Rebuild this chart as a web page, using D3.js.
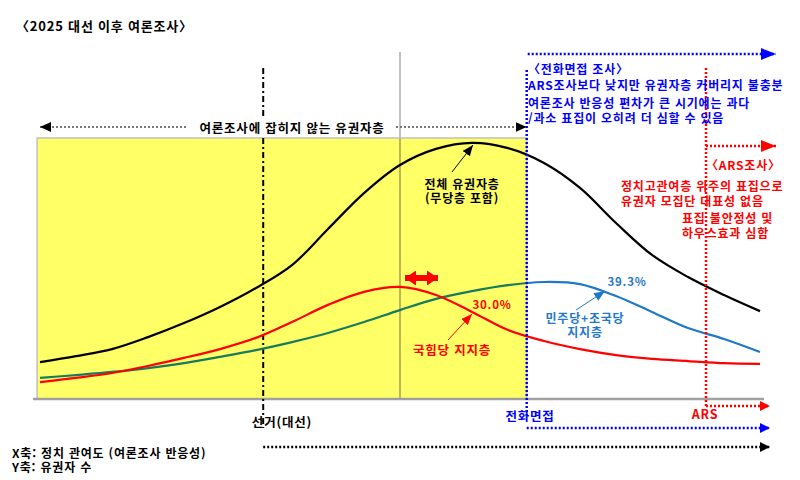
<!DOCTYPE html>
<html lang="ko">
<head>
  <meta charset="UTF-8">
  <title>2025 대선 이후 여론조사</title>
  <script src="https://cdn.jsdelivr.net/npm/d3@7/dist/d3.min.js"></script>
  <style>
    body { margin: 0; background: #fff; }
    text { font-family: "Noto Sans CJK KR", "Noto Sans", sans-serif; font-weight: bold; letter-spacing: 0.8px; }
  </style>
</head>
<body>
  <div id="wrapper"></div>
  <script>
    // 정치 관여도 (0~100) 기준 개념 곡선
    const engagement = [0, 5, 10, 15, 20, 25, 30, 35, 40, 45, 50, 55, 60, 65, 70, 75, 80, 85, 90, 95, 100]
    const totalVoters = [14.2, 16.5, 19.2, 23.8, 29.2, 35.4, 42.7, 51.5, 65.4, 79.2, 90, 96.2, 98.5, 96.5, 90.8, 81.2, 67.7, 55.4, 46.9, 40, 33.8]
    const ppSupport = [6.5, 8.1, 10, 12.7, 15.8, 19.2, 23.5, 29.6, 36.2, 41.2, 43.1, 40, 33.5, 26.5, 22.3, 19.2, 16.9, 15.4, 14.6, 13.8, 13.5]
    const dpSupport = [8.1, 9.2, 10.4, 11.9, 13.8, 16.2, 18.8, 21.9, 25.4, 29.6, 34.2, 38.5, 41.5, 43.8, 45, 44.2, 39.6, 33.5, 27.3, 23.1, 18.1]

    const electionX = 31      // 선거(대선)
    const peakX = 50          // 국힘당 지지층 정점
    const phoneX = 67.6       // 전화면접 도달 한계
    const arsX = 92.5         // ARS 도달 한계

    const labelPP = "30.0%"
    const labelDP = "39.3%"

    const dimensions = { width: 800, height: 480 }

    const svg = d3.select("#wrapper").append("svg")
      .attr("width", dimensions.width)
      .attr("height", dimensions.height)

    const xScale = d3.scaleLinear().domain([0, 100]).range([40, 760])
    const yScale = d3.scaleLinear().domain([0, 100]).range([399, 139])

    const defs = svg.append("defs")
    const addHead = (id, color, w, h) => {
      defs.append("marker").attr("id", id)
        .attr("viewBox", `0 0 ${w} ${h}`).attr("refX", w).attr("refY", h / 2)
        .attr("markerWidth", w).attr("markerHeight", h)
        .attr("markerUnits", "userSpaceOnUse").attr("orient", "auto-start-reverse")
        .append("path").attr("d", `M0,0L${w},${h / 2}L0,${h}Z`).attr("fill", color)
    }
    addHead("hBlue", "#0000ff", 15, 12)
    addHead("hRed", "#ff0000", 15, 12)
    addHead("hBlack", "#000", 11, 10)
    addHead("hBlueS", "#0000ff", 10, 10)
    addHead("hRedS", "#ff0000", 10, 10)
    addHead("hBlackS", "#000", 10, 10)
    addHead("pRed", "#ff0000", 11, 9)
    addHead("pBlue", "#1f78c8", 11, 9)
    addHead("pBlack", "#000", 11, 9)
    addHead("dbl", "#ff0000", 11, 15)

    // 여론조사 영역 (노란 박스)
    const boxLeft = xScale(-0.4), boxRight = xScale(phoneX)
    svg.append("rect")
      .attr("x", boxLeft).attr("y", yScale(100.4))
      .attr("width", boxRight - boxLeft).attr("height", yScale(0) - yScale(100.4))
      .attr("fill", "#ffff66").attr("stroke", "#c0c0c0").attr("stroke-width", 1.5)

    // 회색 세로선 (정점)
    svg.append("line").attr("x1", xScale(peakX)).attr("x2", xScale(peakX))
      .attr("y1", 52).attr("y2", yScale(100.4)).attr("stroke", "#c0c0c0").attr("stroke-width", 2)
    svg.append("line").attr("x1", xScale(peakX)).attr("x2", xScale(peakX))
      .attr("y1", yScale(100.4)).attr("y2", yScale(0)).attr("stroke", "#bcb55a").attr("stroke-width", 2)

    // 가로축
    svg.append("line").attr("x1", 33).attr("x2", 764)
      .attr("y1", yScale(0)).attr("y2", yScale(0))
      .attr("stroke", "#a0a0a0").attr("stroke-width", 2.5)

    // 선거 시점 일점쇄선
    svg.append("line").attr("x1", xScale(electionX)).attr("x2", xScale(electionX))
      .attr("y1", 68).attr("y2", 428)
      .attr("stroke", "#000").attr("stroke-width", 2).attr("stroke-dasharray", "6,3,2,3")

    // 곡선
    const line = d3.line()
      .x((d, i) => xScale(engagement[i]))
      .y(d => yScale(d))
      .curve(d3.curveCatmullRom.alpha(0.5))

    defs.append("clipPath").attr("id", "inBox").append("rect")
      .attr("x", 0).attr("y", 0).attr("width", boxRight).attr("height", 480)
    defs.append("clipPath").attr("id", "outBox").append("rect")
      .attr("x", boxRight).attr("y", 0).attr("width", 800 - boxRight).attr("height", 480)

    svg.append("path").attr("d", line(dpSupport)).attr("clip-path", "url(#inBox)")
      .attr("fill", "none").attr("stroke", "#187a5e").attr("stroke-width", 2.2)
    svg.append("path").attr("d", line(dpSupport)).attr("clip-path", "url(#outBox)")
      .attr("fill", "none").attr("stroke", "#1f78c8").attr("stroke-width", 2.2)
    svg.append("path").attr("d", line(ppSupport))
      .attr("fill", "none").attr("stroke", "#ff0000").attr("stroke-width", 2.2)
    svg.append("path").attr("d", line(totalVoters))
      .attr("fill", "none").attr("stroke", "#000").attr("stroke-width", 2.2)

    // 전화면접 / ARS 점선
    svg.append("line").attr("x1", boxRight).attr("x2", boxRight)
      .attr("y1", 70).attr("y2", 416)
      .attr("stroke", "#0000ff").attr("stroke-width", 2.5).attr("stroke-dasharray", "2,2")
    const arsPx = xScale(arsX)
    svg.append("line").attr("x1", arsPx).attr("x2", arsPx)
      .attr("y1", 68).attr("y2", 406)
      .attr("stroke", "#ff0000").attr("stroke-width", 2.5).attr("stroke-dasharray", "2,2")

    const dotted = (x1, x2, y, color, headEnd) =>
      svg.append("line").attr("x1", x1).attr("x2", x2).attr("y1", y).attr("y2", y)
        .attr("stroke", color).attr("stroke-width", 2.5).attr("stroke-dasharray", "2,2")
        .attr("marker-end", `url(#${headEnd})`)

    dotted(boxRight + 1, 776, 54, "#0000ff", "hBlue")
    dotted(arsPx, 776, 146, "#ff0000", "hRed")
    dotted(arsPx, 770, 406, "#ff0000", "hRedS")
    dotted(boxRight, 770, 428, "#0000ff", "hBlueS")
    dotted(xScale(electionX), 770, 447, "#000", "hBlackS")

    // 여론조사에 잡히지 않는 유권자층
    const unreached = svg.append("g")
    unreached.append("line").attr("x1", 40).attr("x2", boxRight).attr("y1", 127).attr("y2", 127)
      .attr("stroke", "#777").attr("stroke-width", 2).attr("stroke-dasharray", "2,2")
      .attr("marker-start", "url(#hBlack)").attr("marker-end", "url(#hBlack)")
    unreached.append("rect").attr("x", 188).attr("y", 118).attr("width", 208).attr("height", 18).attr("fill", "#fff")
    unreached.append("text").attr("x", 292).attr("y", 127).attr("text-anchor", "middle")
      .attr("dominant-baseline", "central").attr("font-size", 12.5).text("여론조사에 잡히지 않는 유권자층")

    // 텍스트 헬퍼
    const label = (x, y, str, color, size, anchor) =>
      svg.append("text").attr("x", x).attr("y", y).attr("fill", color)
        .attr("font-size", size).attr("text-anchor", anchor || "start")
        .attr("dominant-baseline", "central").text(str)

    label(16, 25, "〈2025 대선 이후  여론조사〉", "#000", 13)

    label(528, 68, "〈전화면접 조사〉", "#0000ff", 12)
    label(528, 84, "ARS조사보다 낮지만 유권자층 커버리지 불충분", "#0000ff", 12)
    label(528, 102, "여론조사 반응성 편차가 큰 시기에는 과다", "#0000ff", 12)
    label(528, 117, "/과소 표집이 오히려 더 심할 수 있음", "#0000ff", 12)

    label(706, 164, "〈ARS조사〉", "#ff0000", 12)
    label(621, 185, "정치고관여층 위주의 표집으로", "#ff0000", 12)
    label(621, 200, "유권자 모집단 대표성 없음", "#ff0000", 12)
    label(682, 217, "표집 불안정성 및", "#ff0000", 12)
    label(682, 232, "하우스효과 심함", "#ff0000", 12)

    // 곡선 설명
    label(462, 183, "전체 유권자층", "#000", 12, "middle")
    label(462, 197, "(무당층 포함)", "#000", 12, "middle")
    svg.append("line").attr("x1", 452).attr("y1", 172).attr("x2", 473).attr("y2", 145)
      .attr("stroke", "#000").attr("stroke-width", 1).attr("marker-end", "url(#pBlack)")

    label(492, 304, labelPP, "#ff0000", 11.5, "middle")
    label(452, 349, "국힘당 지지층", "#ff0000", 12.5, "middle")
    svg.append("line").attr("x1", 448).attr("y1", 340).attr("x2", 472).attr("y2", 314)
      .attr("stroke", "#ff0000").attr("stroke-width", 1).attr("marker-end", "url(#pRed)")

    label(627, 281, labelDP, "#1f78c8", 11.5, "middle")
    label(585, 317, "민주당+조국당", "#1f78c8", 12, "middle")
    label(585, 331, "지지층", "#1f78c8", 12, "middle")
    svg.append("line").attr("x1", 576).attr("y1", 310).attr("x2", 605).attr("y2", 291)
      .attr("stroke", "#1f78c8").attr("stroke-width", 1).attr("marker-end", "url(#pBlue)")

    // 정점 이동 양방향 화살표
    svg.append("line").attr("x1", 405).attr("x2", 438).attr("y1", 278).attr("y2", 278)
      .attr("stroke", "#ff0000").attr("stroke-width", 6)
      .attr("marker-start", "url(#dbl)").attr("marker-end", "url(#dbl)")

    // 하단 라벨
    label(282, 421, "선거(대선)", "#000", 12.5, "middle")
    label(530, 415, "전화면접", "#0000ff", 12.5, "middle")
    label(705, 413, "ARS", "#ff0000", 12.5, "middle")
    label(12, 452, "X축: 정치 관여도 (여론조사 반응성)", "#000", 12)
    label(12, 466, "Y축: 유권자 수", "#000", 12)
  </script>
</body>
</html>
